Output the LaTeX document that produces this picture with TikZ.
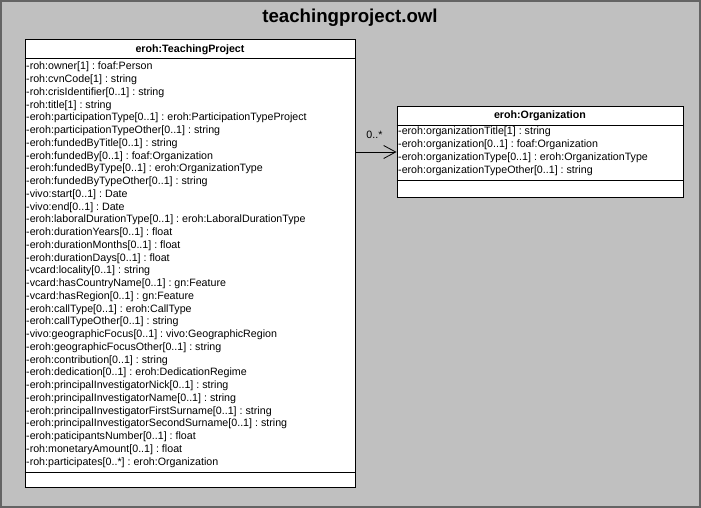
\documentclass[tikz,border=0pt]{standalone}
\usepackage{fontspec}
\setmainfont{Liberation Sans}
\frenchspacing
\usepackage{tikz}
\usetikzlibrary{arrows.meta}
\usepackage{xcolor}
\definecolor{panelgray}{HTML}{C0C0C0}
\definecolor{framegray}{HTML}{646464}

\begin{document}
\begin{tikzpicture}[x=1pt,y=-1pt,
	umlclass/.style={rectangle,draw=black,fill=white,line width=1pt,inner sep=0pt},
	umlhead/.style={anchor=base,inner sep=0pt,font=\fontsize{10.67}{12.75}\selectfont\bfseries},
	umlattr/.style={anchor=base west,align=left,inner sep=0pt,font=\fontsize{10.67}{12.75}\selectfont\frenchspacing}]
				\useasboundingbox (0,0) rectangle (701,508);
				\node(owl) at (350.5,254)[rectangle,draw=framegray,fill=panelgray,line width=2pt,minimum width=699pt,minimum height=506pt]{};
				\node(title) at (350,23)[anchor=base,inner sep=0pt,font=\fontsize{18.67}{22}\selectfont\bfseries]{teachingproject.owl};
%classes
				\node(TeachingProject) at (190,263.5)[umlclass,minimum width=330pt,minimum height=447pt]{};
				\node(Organization) at (540,152)[umlclass,minimum width=286pt,minimum height=90pt]{};
				\draw[line width=1pt] ([yshift=-19pt]TeachingProject.north west) -- ([yshift=-19pt]TeachingProject.north east);
				\draw[line width=1pt] ([yshift=15pt]TeachingProject.south west) -- ([yshift=15pt]TeachingProject.south east);
				\draw[line width=1pt] ([yshift=-19pt]Organization.north west) -- ([yshift=-19pt]Organization.north east);
				\draw[line width=1pt] ([yshift=17.5pt]Organization.south west) -- ([yshift=17.5pt]Organization.south east);
				\node(tphead) at (190,52.3)[umlhead]{eroh:TeachingProject};
				\node(orghead) at (540,118)[umlhead]{eroh:Organization};
%base of the last line
				\node(tpattr) at (26,465)[umlattr]{-roh:owner[1] : foaf:Person\\
-roh:cvnCode[1] : string\\
-roh:crisIdentifier[0..1] : string\\
-roh:title[1] : string\\
-eroh:participationType[0..1] : eroh:ParticipationTypeProject\\
-eroh:participationTypeOther[0..1] : string\\
-eroh:fundedByTitle[0..1] : string\\
-eroh:fundedBy[0..1] : foaf:Organization\\
-eroh:fundedByType[0..1] : eroh:OrganizationType\\
-eroh:fundedByTypeOther[0..1] : string\\
-vivo:start[0..1] : Date\\
-vivo:end[0..1] : Date\\
-eroh:laboralDurationType[0..1] : eroh:LaboralDurationType\\
-eroh:durationYears[0..1] : float\\
-eroh:durationMonths[0..1] : float\\
-eroh:durationDays[0..1] : float\\
-vcard:locality[0..1] : string\\
-vcard:hasCountryName[0..1] : gn:Feature\\
-vcard:hasRegion[0..1] : gn:Feature\\
-eroh:callType[0..1] : eroh:CallType\\
-eroh:callTypeOther[0..1] : string\\
-vivo:geographicFocus[0..1] : vivo:GeographicRegion\\
-eroh:geographicFocusOther[0..1] : string\\
-eroh:contribution[0..1] : string\\
-eroh:dedication[0..1] : eroh:DedicationRegime\\
-eroh:principalInvestigatorNick[0..1] : string\\
-eroh:principalInvestigatorName[0..1] : string\\
-eroh:principalInvestigatorFirstSurname[0..1] : string\\
-eroh:principalInvestigatorSecondSurname[0..1] : string\\
-eroh:paticipantsNumber[0..1] : float\\
-roh:monetaryAmount[0..1] : float\\
-roh:participates[0..*] : eroh:Organization};
				\node(orgattr) at (398,173)[umlattr]{-eroh:organizationTitle[1] : string\\
-eroh:organization[0..1] : foaf:Organization\\
-eroh:organizationType[0..1] : eroh:OrganizationType\\
-eroh:organizationTypeOther[0..1] : string};
%association
				\draw[-{Straight Barb[length=12pt,width=13pt]}, line width=0.8pt] (TeachingProject.east |- Organization.west) to node[midway, above=12.5pt, xshift=-1.5pt, inner sep=0pt, font=\fontsize{10.67}{12.75}\selectfont]{0..*} (Organization.west);
			\end{tikzpicture}
\end{document}
